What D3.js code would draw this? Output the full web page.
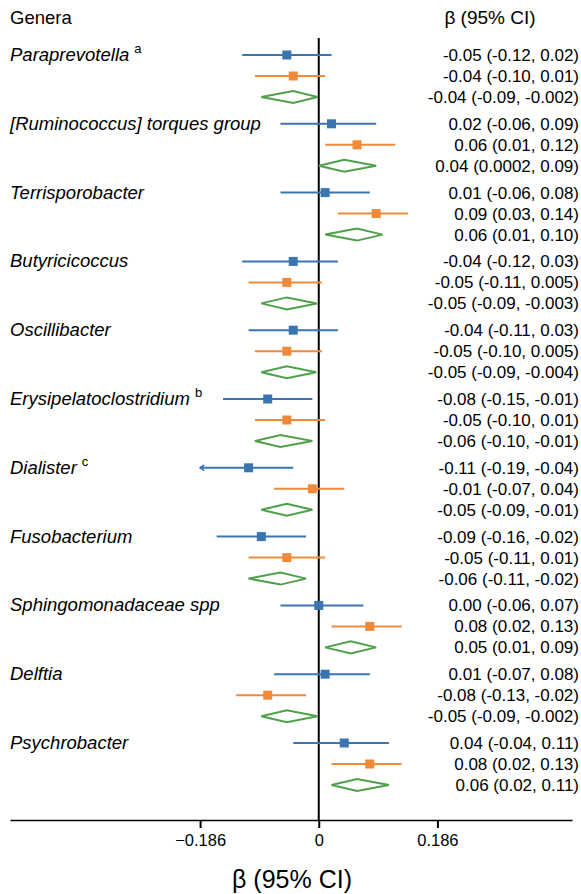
<!DOCTYPE html>
<html>
<head>
<meta charset="utf-8">
<script src="https://cdn.jsdelivr.net/npm/d3@7"></script>
<style>
  body { margin: 0; background: #fff; }
  text { font-family: "Liberation Sans", Arial, sans-serif; fill: #000; }
</style>
</head>
<body>
<svg width="581" height="894"></svg>
<script>
var svg = d3.select("svg"),
width = 581,
height = 894;

// genera and footnote marks
var genera = ["Paraprevotella", "[Ruminococcus] torques group", "Terrisporobacter", "Butyricicoccus",
  "Oscillibacter", "Erysipelatoclostridium", "Dialister", "Fusobacterium",
  "Sphingomonadaceae spp", "Delftia", "Psychrobacter"];
var marks = ["a", "", "", "", "", "b", "c", "", "", "", ""];

// beta (95% CI) per series, as printed
var blueCI = ["-0.05 (-0.12, 0.02)", "0.02 (-0.06, 0.09)", "0.01 (-0.06, 0.08)", "-0.04 (-0.12, 0.03)",
  "-0.04 (-0.11, 0.03)", "-0.08 (-0.15, -0.01)", "-0.11 (-0.19, -0.04)", "-0.09 (-0.16, -0.02)",
  "0.00 (-0.06, 0.07)", "0.01 (-0.07, 0.08)", "0.04 (-0.04, 0.11)"];
var orangeCI = ["-0.04 (-0.10, 0.01)", "0.06 (0.01, 0.12)", "0.09 (0.03, 0.14)", "-0.05 (-0.11, 0.005)",
  "-0.05 (-0.10, 0.005)", "-0.05 (-0.10, 0.01)", "-0.01 (-0.07, 0.04)", "-0.05 (-0.11, 0.01)",
  "0.08 (0.02, 0.13)", "-0.08 (-0.13, -0.02)", "0.08 (0.02, 0.13)"];
var greenCI = ["-0.04 (-0.09, -0.002)", "0.04 (0.0002, 0.09)", "0.06 (0.01, 0.10)", "-0.05 (-0.09, -0.003)",
  "-0.05 (-0.09, -0.004)", "-0.06 (-0.10, -0.01)", "-0.05 (-0.09, -0.01)", "-0.06 (-0.11, -0.02)",
  "0.05 (0.01, 0.09)", "-0.05 (-0.09, -0.002)", "0.06 (0.02, 0.11)"];

var tickValues = [-0.186, 0, 0.186];
var clipMin = -0.186;

var colors = ["#3a75b0", "#ef8a3a", "#4fa04a"];

function parse(s) {
  var m = s.match(/-?[\d.]+/g).map(Number);
  return {est: m[0], lo: m[1], hi: m[2], text: s};
}

var series = [blueCI, orangeCI, greenCI].map(function(arr, j) {
  return arr.map(function(s, i) { var d = parse(s); d.g = i; d.s = j; return d; });
});

var x = d3.scaleLinear().domain([-0.484, 0.397]).range([10, 572]);
var yGroup = d3.scaleLinear().domain([0, 10]).range([55, 743]);
var rowGap = 21;
function yPos(d) { return yGroup(d.g) + d.s * rowGap; }

var axisY = 820;

// headers
svg.append("text").attr("x", 10).attr("y", 24).style("font-size", "18.5px").text("Genera");
svg.append("text").attr("x", 490).attr("y", 24).attr("text-anchor", "middle").style("font-size", "19px").text("β (95% CI)");

// genus labels
var lab = svg.append("g").selectAll("text").data(genera).enter().append("text")
  .attr("x", 10)
  .attr("y", function(d, i) { return yGroup(i) + 6; })
  .style("font-size", "18.5px");
lab.append("tspan").style("font-style", "italic").text(function(d) { return d; });
lab.append("tspan").attr("dx", 5).attr("dy", -8).style("font-size", "13px")
  .text(function(d, i) { return marks[i]; });

// zero line
svg.append("line")
  .attr("x1", x(0)).attr("x2", x(0))
  .attr("y1", 38).attr("y2", axisY)
  .attr("stroke", "#000").attr("stroke-width", 2);

// axis
var axis = svg.append("g").attr("transform", "translate(0," + axisY + ")")
  .call(d3.axisBottom(x).tickValues(tickValues).tickSize(8).tickSizeOuter(0)
    .tickFormat(function(d) { return d === 0 ? "0" : d3.format(".3f")(d); }));
axis.select(".domain").attr("stroke", "#000").attr("stroke-width", 1.5);
axis.selectAll(".tick line").attr("stroke", "#000").attr("stroke-width", 2);
axis.selectAll(".tick text").attr("y", 14).style("font-size", "16.5px")
  .style("font-family", "Liberation Sans, Arial, sans-serif");

svg.append("text").attr("x", 292).attr("y", 888).attr("text-anchor", "middle")
  .style("font-size", "25px").text("β (95% CI)");

// arrow marker
svg.append("defs").append("marker")
  .attr("id", "arrow").attr("viewBox", "0 0 10 10").attr("refX", 8).attr("refY", 5)
  .attr("markerWidth", 3.5).attr("markerHeight", 3.5).attr("orient", "auto-start-reverse")
  .append("path").attr("d", "M2,1 L8,5 L2,9").attr("fill", "none")
  .attr("stroke", colors[0]).attr("stroke-width", 2.2);

// CI lines and squares (blue, orange)
[0, 1].forEach(function(j) {
  var g = svg.append("g");
  g.selectAll("line").data(series[j]).enter().append("line")
    .attr("x1", function(d) { return x(Math.max(d.lo, clipMin)); })
    .attr("x2", function(d) { return x(d.hi); })
    .attr("y1", yPos).attr("y2", yPos)
    .attr("stroke", colors[j]).attr("stroke-width", 2)
    .attr("marker-start", function(d) { return d.lo < clipMin ? "url(#arrow)" : null; });
  g.selectAll("rect").data(series[j]).enter().append("rect")
    .attr("x", function(d) { return x(d.est) - 4.5; })
    .attr("y", function(d) { return yPos(d) - 4.5; })
    .attr("width", 9).attr("height", 9)
    .attr("fill", colors[j]);
});

// diamonds (green)
svg.append("g").selectAll("path").data(series[2]).enter().append("path")
  .attr("d", function(d) {
    var y = yPos(d);
    return "M" + x(d.lo) + "," + y + "L" + x(d.est) + "," + (y - 6) +
      "L" + x(d.hi) + "," + y + "L" + x(d.est) + "," + (y + 6) + "Z";
  })
  .attr("fill", "none").attr("stroke", colors[2]).attr("stroke-width", 2);

// value text column
svg.append("g").selectAll("text").data(series[0].concat(series[1], series[2])).enter().append("text")
  .attr("x", 579)
  .attr("y", function(d) { return yPos(d) + 6; })
  .attr("text-anchor", "end")
  .style("font-size", "17px")
  .text(function(d) { return d.text; });
</script>
</body>
</html>
